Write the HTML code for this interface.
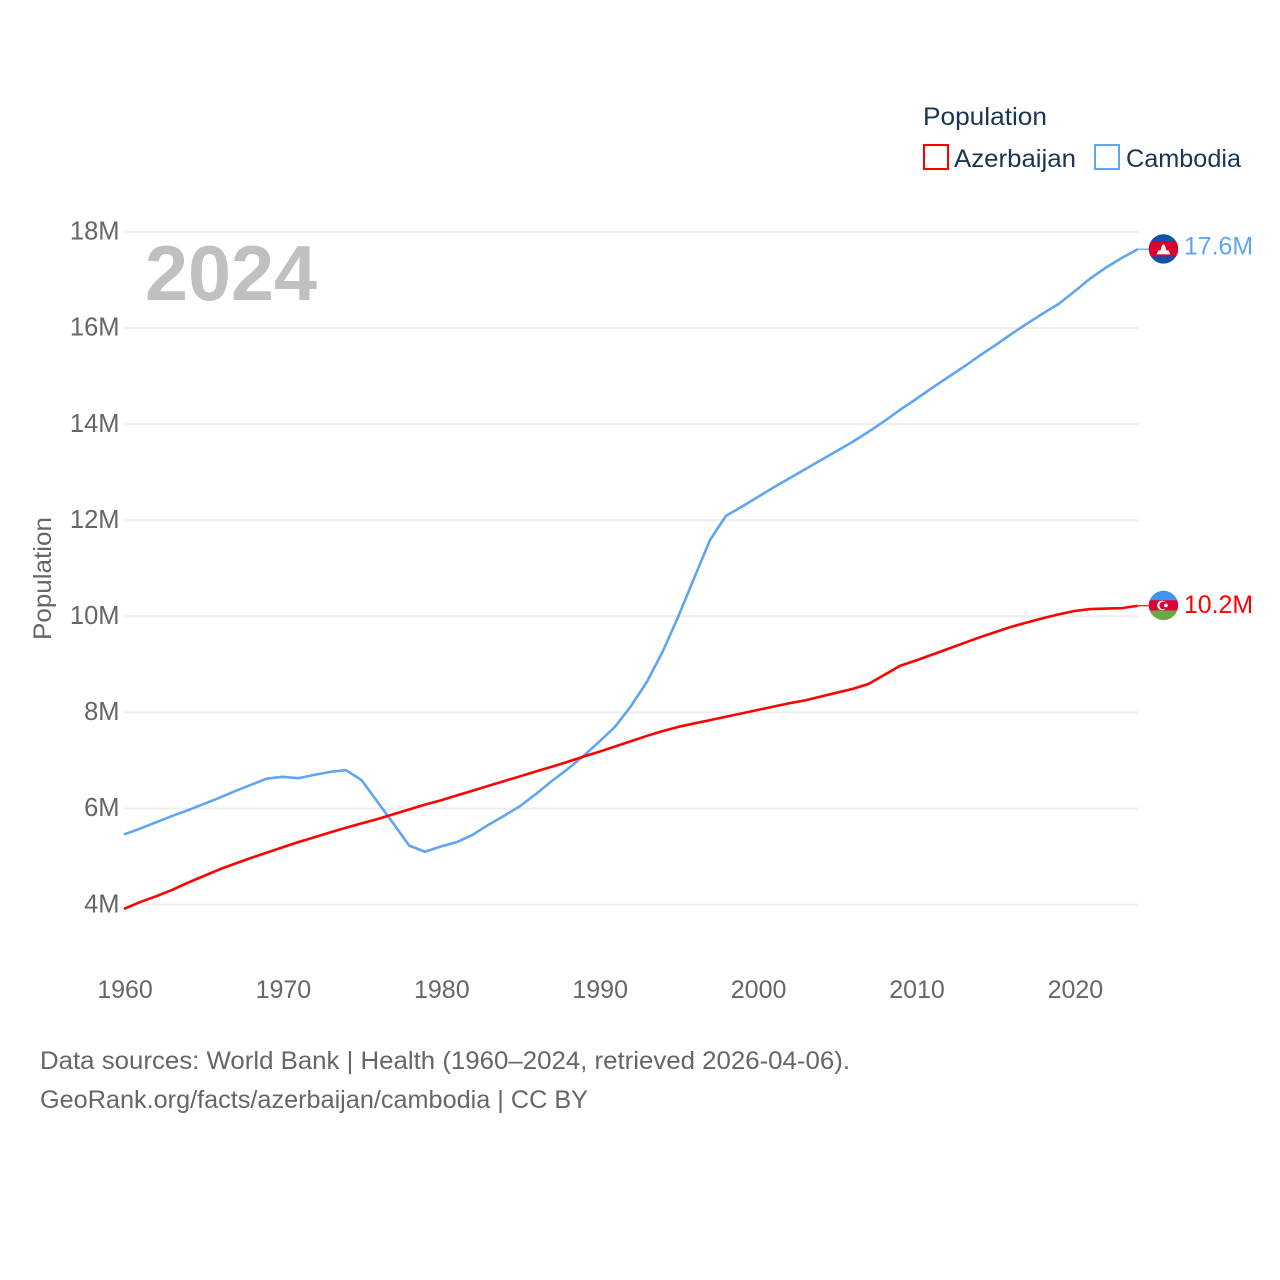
<!DOCTYPE html>
<html lang="en">
<head>
<meta charset="utf-8">
<title>Population: Azerbaijan and Cambodia</title>
<style>
html,body{margin:0;padding:0;background:#fff;}
svg{display:block;font-family:"Liberation Sans",Arial,sans-serif;}
</style>
</head>
<body>
<svg id="chart" xmlns="http://www.w3.org/2000/svg" width="1280" height="1280" viewBox="0 0 1280 1280">
  <rect width="1280" height="1280" fill="#ffffff"/>

  <g id="grid"></g>
  <g id="yticks"></g>
  <g id="xticks"></g>

  <text x="145" y="300" font-size="78" font-weight="700" fill="#c0c0c0" textLength="172" lengthAdjust="spacingAndGlyphs">2024</text>

  <text transform="translate(51,640) rotate(-90)" font-size="25" fill="#666666" textLength="123" lengthAdjust="spacingAndGlyphs">Population</text>

  <g>
    <text x="923" y="125" font-size="25" fill="#1a3454" textLength="124" lengthAdjust="spacingAndGlyphs">Population</text>
    <g>
      <rect x="924" y="145" width="24" height="24" fill="#ffffff" stroke="#ff0000" stroke-width="2"/>
      <text x="954" y="167" font-size="25" fill="#1a3454" textLength="122" lengthAdjust="spacingAndGlyphs">Azerbaijan</text>
    </g>
    <g>
      <rect x="1095" y="145" width="24" height="24" fill="#ffffff" stroke="#60a5f0" stroke-width="2"/>
      <text x="1126" y="167" font-size="25" fill="#1a3454" textLength="115" lengthAdjust="spacingAndGlyphs">Cambodia</text>
    </g>
  </g>

  <g id="series"></g>

  <defs>
    <clipPath id="flag-clip"><circle cx="0" cy="0" r="14.7"/></clipPath>
  </defs>

  <g id="flag-cambodia">
    <g clip-path="url(#flag-clip)">
      <rect x="-15" y="-15" width="30" height="30" fill="#0f50a8"/>
      <rect x="-15" y="-7.5" width="30" height="15" fill="#dc0030"/>
      <polygon points="-7,5.5 7,5.5 5,1.5 3,1.5 1.5,-3.5 0,-4.7 -1.5,-3.5 -3,1.5 -5,1.5" fill="#f4f4f4"/>
    </g>
  </g>

  <g id="flag-azerbaijan">
    <g clip-path="url(#flag-clip)">
      <rect x="-15" y="-15" width="30" height="10" fill="#3f95ee"/>
      <rect x="-15" y="-5.2" width="30" height="10.4" fill="#e00034"/>
      <rect x="-15" y="5" width="30" height="10" fill="#6fa644"/>
      <circle cx="-1.5" cy="0" r="4.8" fill="#ffffff"/>
      <circle cx="-0.3" cy="0" r="3.8" fill="#e00034"/>
      <circle cx="2.5" cy="0" r="1.8" fill="#ffffff"/>
    </g>
  </g>

  <text id="value-cambodia" x="1184" font-size="25" fill="#60a5f0" textLength="69" lengthAdjust="spacingAndGlyphs"></text>
  <text id="value-azerbaijan" x="1184" font-size="25" fill="#ff0000" textLength="69" lengthAdjust="spacingAndGlyphs"></text>

  <g>
    <text x="40" y="1069" font-size="25" fill="#666666" textLength="810" lengthAdjust="spacingAndGlyphs">Data sources: World Bank | Health (1960–2024, retrieved 2026-04-06).</text>
    <text x="40" y="1108" font-size="25" fill="#666666" textLength="548" lengthAdjust="spacingAndGlyphs">GeoRank.org/facts/azerbaijan/cambodia | CC BY</text>
  </g>
</svg>

<script>
const firstYear = 1960;
const yTicks = [4, 6, 8, 10, 12, 14, 16, 18];
const xTicks = [1960, 1970, 1980, 1990, 2000, 2010, 2020];
const azerbaijan = [
  3.91, 4.05, 4.17, 4.30, 4.45, 4.59, 4.73, 4.85, 4.97, 5.08,
  5.19, 5.30, 5.40, 5.50, 5.60, 5.69, 5.78, 5.88, 5.98, 6.08,
  6.17, 6.27, 6.37, 6.47, 6.57, 6.67, 6.77, 6.87, 6.97, 7.08,
  7.18, 7.29, 7.40, 7.51, 7.61, 7.70, 7.77, 7.84, 7.91, 7.98,
  8.05, 8.12, 8.19, 8.25, 8.33, 8.41, 8.49, 8.59, 8.78, 8.97,
  9.08, 9.20, 9.32, 9.44, 9.56, 9.67, 9.78, 9.87, 9.96, 10.04,
  10.11, 10.15, 10.16, 10.17, 10.22
];
const cambodia = [
  5.46, 5.58, 5.71, 5.84, 5.96, 6.09, 6.22, 6.36, 6.49, 6.62,
  6.66, 6.63, 6.70, 6.76, 6.80, 6.59, 6.14, 5.69, 5.23, 5.10,
  5.21, 5.30, 5.45, 5.66, 5.85, 6.05, 6.30, 6.57, 6.82, 7.09,
  7.39, 7.70, 8.13, 8.63, 9.26, 10.00, 10.80, 11.59, 12.09, 12.28,
  12.48, 12.68, 12.87, 13.06, 13.25, 13.44, 13.63, 13.84, 14.06, 14.30,
  14.52, 14.75, 14.97, 15.19, 15.42, 15.64, 15.87, 16.09, 16.30, 16.50,
  16.76, 17.03, 17.26, 17.46, 17.64
];

const NS = 'http://www.w3.org/2000/svg';
function xScale(year) { return 124 + (year - 1960) * 15.84; }
function yScale(v) { return 904.6 - (v - 4) * 48.05; }
function make(tag, attrs, parent) {
  const el = document.createElementNS(NS, tag);
  for (const k in attrs) el.setAttribute(k, attrs[k]);
  parent.appendChild(el);
  return el;
}

const gridG = document.getElementById('grid');
const yG = document.getElementById('yticks');
const xG = document.getElementById('xticks');
const seriesG = document.getElementById('series');
const lastX = xScale(firstYear + cambodia.length - 1);

yTicks.forEach(function (t) {
  const line = make('line', { x1: 124, x2: lastX + 0.5, y1: yScale(t), y2: yScale(t), stroke: '#eeeeee', 'stroke-width': 2 }, gridG);
  
  
  const label = make('text', { x: 119.5, y: yScale(t) + 7.7, 'text-anchor': 'end', 'font-size': 25.5, fill: '#666666' }, yG);
  
  
  label.textContent = t + 'M';
});

xTicks.forEach(function (t) {
  const label = make('text', { x: xScale(t) + 1, y: 998, 'text-anchor': 'middle', 'font-size': 25, fill: '#666666' }, xG);
  
  
  label.textContent = String(t);
});

function drawSeries(values, color, key, labelOffset) {
  const pts = values.map(function (v, i) {
    return xScale(firstYear + i).toFixed(2) + ',' + yScale(v).toFixed(2);
  }).join(' ');
  const line = make('polyline', { points: pts, fill: 'none', stroke: color, 'stroke-width': 2.6, 'stroke-linejoin': 'round' }, seriesG);
  
  
  const endV = values[values.length - 1];
  const endY = yScale(endV);
  const connector = make('line', { x1: lastX, x2: lastX + 12, y1: endY, y2: endY, stroke: color, 'stroke-width': 1.2 }, seriesG);
  
  
  document.getElementById('flag-' + key).setAttribute('transform', 'translate(' + (lastX + 25.7) + ',' + (endY - 0.3) + ')');
  const label = document.getElementById('value-' + key);
  label.setAttribute('y', endY + labelOffset);
  label.textContent = endV.toFixed(1) + 'M';
}

drawSeries(cambodia, '#60a5f0', 'cambodia', 5.5);
drawSeries(azerbaijan, '#ff0000', 'azerbaijan', 7.2);
</script>
</body>
</html>
